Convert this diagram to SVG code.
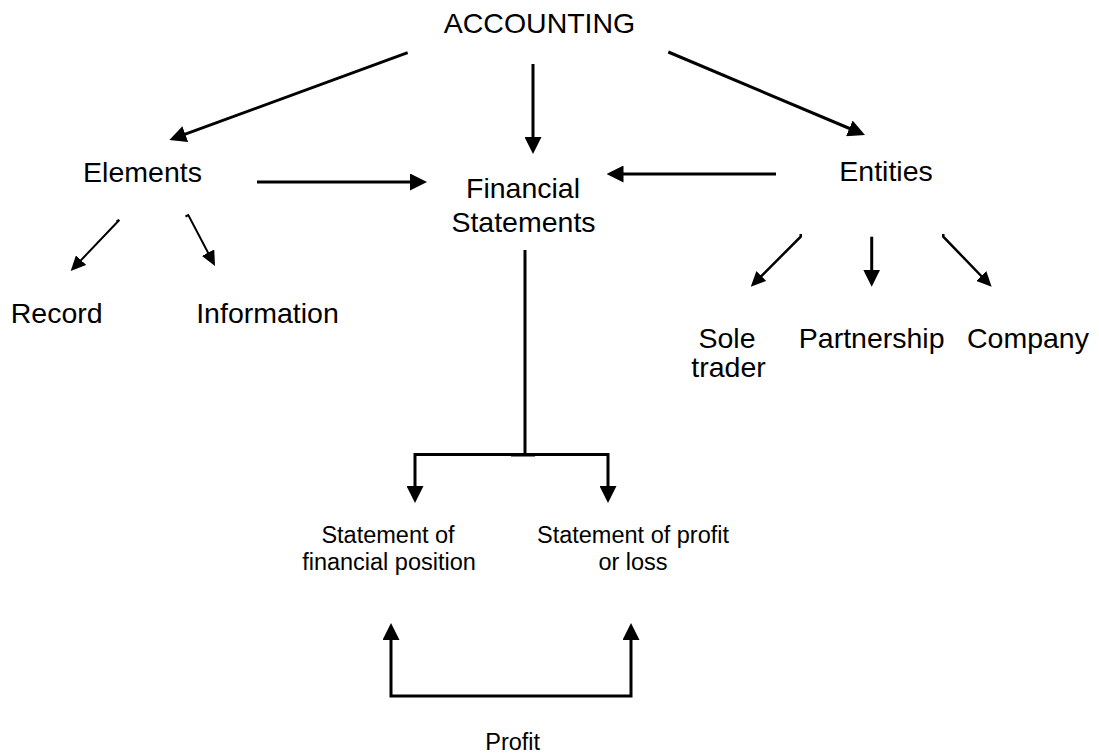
<svg xmlns="http://www.w3.org/2000/svg" width="1099" height="756" viewBox="0 0 1099 756">
  <style>
    text { font-family: "Liberation Sans", Arial, sans-serif; fill: #000; text-anchor: middle; }
    .big { font-size: 28.5px; }
    .small { font-size: 23.5px; }
    .wire { fill: none; stroke: #000; stroke-width: 3; }
    .fine { fill: none; stroke: #000; stroke-width: 2; }
    .mid { fill: none; stroke: #000; stroke-width: 2.5; }
  </style>
  <defs>
    <marker id="head" markerUnits="userSpaceOnUse" markerWidth="17" markerHeight="17" refX="8" refY="8.5" orient="auto-start-reverse">
      <path d="M0,0 L17,8.5 L0,17 z" fill="#000"/>
    </marker>
    <marker id="headSmall" markerUnits="userSpaceOnUse" markerWidth="15" markerHeight="14" refX="7" refY="7" orient="auto">
      <path d="M0,0 L15,7 L0,14 z" fill="#000"/>
    </marker>
  </defs>

  <rect width="1099" height="756" fill="#fff"/>

  <!-- connectors -->
  <g id="connectors">
    <line class="wire" x1="407.7" y1="52.7" x2="177.8" y2="136.9" marker-end="url(#head)"/>
    <line class="wire" x1="533" y1="64" x2="533" y2="145" marker-end="url(#head)"/>
    <line class="wire" x1="668.3" y1="52" x2="856.7" y2="131.5" marker-end="url(#head)"/>
    <line class="wire" x1="257" y1="182" x2="418" y2="182" marker-end="url(#head)"/>
    <line class="wire" x1="776" y1="174" x2="615.5" y2="174" marker-end="url(#head)"/>

    <path class="fine" d="M116.5,221.5 L119.3,220 L76.2,265.2" marker-end="url(#headSmall)"/>
    <path class="fine" d="M185.5,216.5 L188.3,215 L211.3,258.9" marker-end="url(#headSmall)"/>

    <path class="mid" d="M800.7,234 L800.7,236.7 L756.4,281" marker-end="url(#headSmall)"/>
    <line class="wire" x1="871.7" y1="236.7" x2="871.7" y2="277.7" marker-end="url(#head)"/>
    <path class="mid" d="M943.3,234 L943.3,236.7 L986.1,281" marker-end="url(#headSmall)"/>

    <!-- trunk from Financial Statements, splitting to both statements -->
    <line class="wire" x1="525" y1="250" x2="525" y2="456"/>
    <path class="wire" d="M415,494 V454.5 H608 V494" marker-start="url(#head)" marker-end="url(#head)"/>
    <line class="fine" x1="511" y1="455.5" x2="535" y2="455.5"/>

    <!-- profit links both statements -->
    <path class="wire" d="M391,632 V696 H631 V632" marker-start="url(#head)" marker-end="url(#head)"/>
  </g>

  <g id="accounting"><text class="big" x="539.5" y="33">ACCOUNTING</text></g>
  <g id="elements"><text class="big" x="142.5" y="182">Elements</text></g>
  <g id="financial-statements">
    <text class="big" x="523" y="197.5">Financial</text>
    <text class="big" x="523.5" y="231.5">Statements</text>
  </g>
  <g id="entities"><text class="big" x="886" y="181">Entities</text></g>
  <g id="record"><text class="big" x="56.7" y="323">Record</text></g>
  <g id="information"><text class="big" x="267.5" y="323">Information</text></g>
  <g id="sole-trader">
    <text class="big" x="727" y="347.7">Sole</text>
    <text class="big" x="728.5" y="376.7">trader</text>
  </g>
  <g id="partnership"><text class="big" x="871.7" y="347.7">Partnership</text></g>
  <g id="company"><text class="big" x="1028" y="347.7">Company</text></g>
  <g id="financial-position">
    <text class="small" x="388" y="543">Statement of</text>
    <text class="small" x="389" y="570">financial position</text>
  </g>
  <g id="profit-or-loss">
    <text class="small" x="633" y="543">Statement of profit</text>
    <text class="small" x="633" y="570">or loss</text>
  </g>
  <g id="profit"><text class="small" x="512.7" y="750">Profit</text></g>
</svg>
